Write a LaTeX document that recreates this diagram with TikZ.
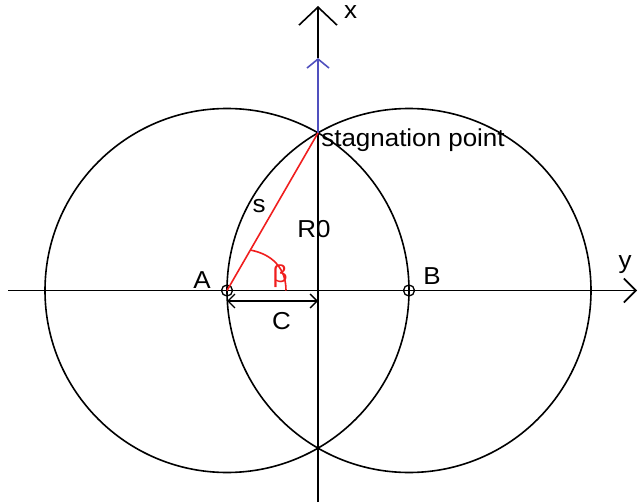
\documentclass[tikz,border=0pt]{standalone}
\usepackage{fontspec}
\newfontfamily\lab[FakeStretch=1.06]{Liberation Sans}
\usetikzlibrary{arrows.meta}
\definecolor{axisblue}{RGB}{80,80,190}
\definecolor{lred}{RGB}{240,30,30}
\begin{document}
\begin{tikzpicture}[x=1pt,y=-1pt,line width=1.6pt,
  lbl/.style={font=\lab\fontsize{24.5}{29}\selectfont,inner sep=0pt},
  ptmark/.style={circle,draw,minimum size=11pt,inner sep=0pt,line width=1.3pt},
  bigbarb/.style={-{Straight Barb[length=18pt,width=38pt,line width=1.6pt]}},
  midbarb/.style={-{Straight Barb[length=12pt,width=24pt,line width=1.6pt]}},
  smallbarb/.style={-{Straight Barb[length=9pt,width=22pt,line width=1.6pt]}},
  dimbarb/.style={{Straight Barb[length=7pt,width=14pt,line width=1.4pt]}-{Straight Barb[length=7pt,width=14pt,line width=1.4pt]}}]
\useasboundingbox (0,0) rectangle (638,503);
% coordinates
\coordinate (O) at (318,290.5);
\coordinate (S) at (318,132.9);
\coordinate (Bot) at (318,448.1);
\coordinate (xl) at (8,290.5);
\coordinate (xr) at (637,290.5);
\coordinate (yt) at (318,6);
\coordinate (yb) at (318,502);
\coordinate (bt) at (318,58);
\coordinate (CA) at (227,301);
\coordinate (CO) at (318,301);
% circles
\draw (227,290.5) circle (182);
\draw (409,290.5) circle (182);
% axes
\draw[midbarb] (xl) -- (xr);
\draw (yb) -- (S);
\draw[bigbarb] (bt) -- (yt);
\draw[axisblue,smallbarb] (S) -- (bt);
% markers
\node[ptmark] (A) at (227,290.5) {};
\node[ptmark] (B) at (409,290.5) {};
% red line and angle arc
\draw[lred] (A.center) -- (S);
\draw[lred] (250,250) .. controls (272,254) and (286,268) .. (286,290.5);
% C dimension
\draw[dimbarb] (CA) -- (CO);
% labels
\node[lbl,anchor=base] (lx) at (350.5,18.3) {x};
\node[lbl,anchor=base west] (lsp) at (320.5,146.5) {stagnation point};
\node[lbl,anchor=base] (ls) at (259,212) {s};
\node[lbl,anchor=base] (lR) at (314,237) {R0};
\node[lbl,text=lred] (lb) at (280,276) {β};
\node[lbl,anchor=base] (lA) at (202,288) {A};
\node[lbl,anchor=base] (lB) at (432,284) {B};
\node[lbl,anchor=base] (lC) at (281.5,329) {C};
\node[lbl,anchor=base] (ly) at (625,268) {y};
\end{tikzpicture}
\end{document}
